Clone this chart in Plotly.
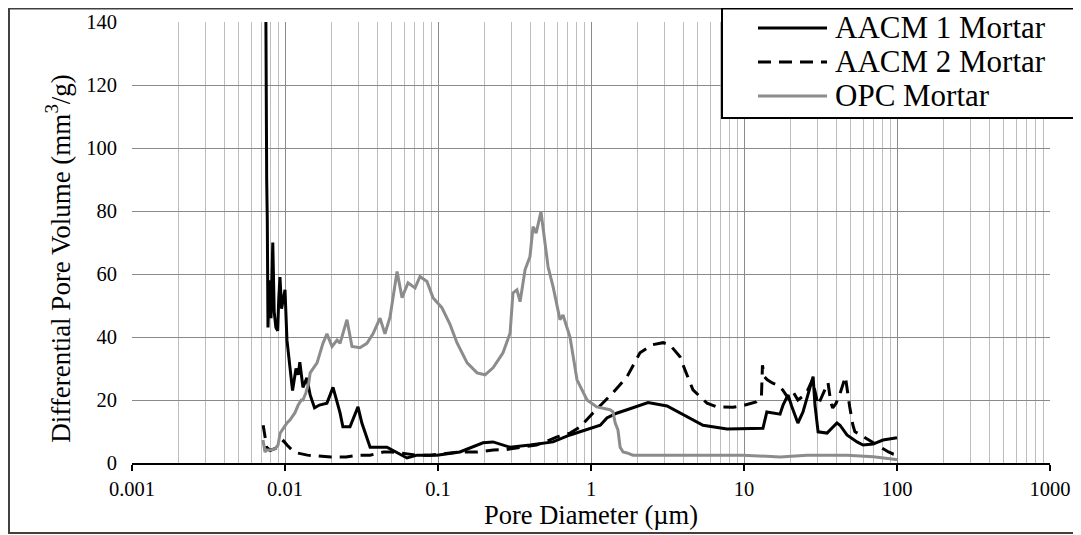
import plotly.graph_objects as go

# ---------------- data ----------------
aacm1_x = [0.00740, 0.00748, 0.00755, 0.00759, 0.00766, 0.00774, 0.0079, 0.0081, 0.00832, 0.0085,
           0.00872, 0.00896, 0.0091, 0.00927, 0.0095, 0.0098, 0.0100, 0.0103, 0.0107, 0.0112,
           0.0118, 0.0122, 0.0125, 0.0131, 0.0139, 0.0146, 0.0156, 0.0168, 0.0188, 0.0206,
           0.0229, 0.0239, 0.0266, 0.0300, 0.0318, 0.0360, 0.0464, 0.0540, 0.0627, 0.073,
           0.0984, 0.139, 0.197, 0.229, 0.296, 0.399, 0.565, 0.729, 1.0, 1.15,
           1.27, 1.47, 1.72, 2.36, 3.14, 4.24, 5.40, 7.74, 12.7, 13.3,
           14.1, 15.5, 17.2, 18.0, 19.4, 20.5, 22.5, 24.3, 26.2, 28.3,
           29.1, 30.5, 34.9, 40.5, 42.4, 47.1, 54.8, 60.0, 69.7, 81.0, 100.0]
aacm1_y = [200, 140, 100, 90, 77, 43, 58, 46, 70, 48,
           43, 42, 52, 59, 49, 52, 55, 39, 32, 23,
           30, 28, 32, 24, 27, 21.6, 17.5, 18.4, 19, 24,
           15.9, 11.5, 11.5, 17.8, 12.7, 5, 5, 3.2, 1.6, 2.5,
           2.5, 3.5, 6.4, 6.7, 5, 5.7, 6.7, 8.9, 11, 12,
           14.3, 15.8, 16.9, 19.2, 18.1, 14.7, 12, 10.8, 10.8, 11,
           16.2, 15.9, 15.5, 18.4, 21.6, 18, 12.7, 16.2, 21.6, 27.4,
           18.4, 9.9, 9.5, 12.7, 12, 8.9, 6.7, 5.7, 6, 7.3, 8]

aacm2_x = [0.0072, 0.0074, 0.0076, 0.0080, 0.0090, 0.0098, 0.0103, 0.0112, 0.0120, 0.014,
           0.016, 0.020, 0.025, 0.030, 0.036, 0.044, 0.050, 0.060, 0.073, 0.089,
           0.11, 0.139, 0.18, 0.23, 0.28, 0.36, 0.44, 0.52, 0.60, 0.73,
           0.85, 1.03, 1.2, 1.39, 1.72, 2.09, 2.5, 2.96, 3.28, 3.82,
           4.11, 4.64, 5.73, 6.67, 8.47, 9.85, 12.0, 13.0, 13.2, 13.6,
           14.2, 15.3, 16.5, 17.9, 19.5, 21.0, 22.5, 24.0, 26.0, 28.0,
           30.5, 33.0, 35.4, 37.0, 38.0, 40.0, 42.4, 46.0, 47.5, 49.0,
           51.5, 53.0, 88.0, 95.0, 101.0]
aacm2_y = [12, 8, 5, 4, 5, 7, 5.7, 4, 3.2, 2.5,
           2.2, 1.9, 1.9, 2.5, 2.5, 3.5, 3.5, 3.0, 2.5, 2.5,
           3, 3.5, 3.5, 4.1, 4.3, 5.2, 5.7, 7, 8.3, 9.5,
           11.5, 15.9, 19, 22.3, 27.4, 35, 37.5, 38.2, 37.5, 33.7,
           29.6, 23.2, 19, 17.8, 17.7, 18.2, 19.4, 21, 31, 27.4,
           26.4, 25.4, 24.8, 23.2, 20.5, 22.5, 20, 21, 23, 26.4,
           18.4, 22, 25.5, 19, 17.5, 19, 22, 27.4, 22, 18,
           12, 10, 3.5, 2.8, 2.6]

opc_x = [0.00718, 0.0074, 0.0076, 0.0080, 0.0086, 0.0090, 0.0093, 0.0097, 0.0103, 0.0108,
         0.0116, 0.0122, 0.0128, 0.0131, 0.0137, 0.0143, 0.0146, 0.0162, 0.0177, 0.0188,
         0.0203, 0.0219, 0.0229, 0.0254, 0.0274, 0.0309, 0.0343, 0.0376, 0.0418, 0.045,
         0.0486, 0.054, 0.0582, 0.0637, 0.0708, 0.0763, 0.0847, 0.0927, 0.106, 0.120,
         0.133, 0.155, 0.180, 0.203, 0.229, 0.266, 0.296, 0.309, 0.328, 0.344,
         0.371, 0.399, 0.418, 0.438, 0.471, 0.485, 0.524, 0.565, 0.627, 0.656,
         0.729, 0.810, 0.942, 1.09, 1.33, 1.39, 1.44, 1.50, 1.55, 1.62,
         1.72, 1.88, 5.0, 9.85, 17.2, 25.8, 47.1, 70.0, 101.6]
opc_y = [7.3, 3.5, 4.1, 4.1, 4.5, 5.7, 9.5, 11, 12.7, 13.7,
         15.9, 18.4, 20, 20, 22.3, 25.4, 28.6, 31.8, 38, 41,
         37, 39, 38, 45.5, 37, 36.6, 38, 41, 46, 41,
         46.4, 60.8, 52.5, 57.2, 55.6, 59.2, 57.6, 52.5, 49.3, 43.9,
         38.2, 31.8, 28.6, 28, 30.2, 35, 41.3, 54, 55, 51.2,
         61.4, 65.5, 75, 73, 79.8, 75, 62.3, 56, 45.5, 47,
         40, 26.4, 20, 17.8, 16.9, 16.3, 12.7, 10.5, 5, 3.5,
         3.2, 2.5, 2.5, 2.5, 1.9, 2.5, 2.5, 2.0, 1.0]

series_names = ["AACM 1 Mortar", "AACM 2 Mortar", "OPC Mortar"]
x_major = [0.001, 0.01, 0.1, 1, 10, 100, 1000]
x_major_text = ["0.001", "0.01", "0.1", "1", "10", "100", "1000"]
x_minor = [m * d for d in [0.001, 0.01, 0.1, 1, 10, 100] for m in range(2, 10)]
y_ticks = [0, 20, 40, 60, 80, 100, 120, 140]
x_title = "Pore Diameter (µm)"
y_title = "Differential Pore Volume (mm<sup>3</sup>/g)"

# ---------------- figure ----------------
FONT = "Liberation Serif, Times New Roman, serif"
BLACK = "#000000"
GRAY = "#8c8c8c"
DASH = "13px,8px"

fig = go.Figure()
fig.add_trace(go.Scatter(x=aacm1_x, y=aacm1_y, mode="lines", name=series_names[0],
                         line=dict(color=BLACK, width=3), showlegend=False))
fig.add_trace(go.Scatter(x=aacm2_x, y=aacm2_y, mode="lines", name=series_names[1],
                         line=dict(color=BLACK, width=3, dash=DASH), showlegend=False))
fig.add_trace(go.Scatter(x=opc_x, y=opc_y, mode="lines", name=series_names[2],
                         line=dict(color=GRAY, width=3), showlegend=False))

# page has an 8px body margin; figure is sized so it ends at the window edge
fig.update_layout(
    width=1073, height=527,
    margin=dict(l=124, r=31, t=14, b=72, autoexpand=False),
    paper_bgcolor="white", plot_bgcolor="white",
    font=dict(family=FONT, color="black", size=20),
)

fig.update_xaxes(
    type="log", range=[-3, 3], automargin=False,
    tickmode="array", tickvals=x_major, ticktext=x_major_text,
    showgrid=True, gridcolor="#8a8a8a", gridwidth=1,
    minor=dict(tickvals=x_minor, showgrid=True, gridcolor="#bdbdbd", gridwidth=1, ticks=""),
    showline=True, linecolor="black", linewidth=2,
    ticks="outside", ticklen=6, tickwidth=2, tickcolor="black",
    tickfont=dict(family=FONT, size=20.5),
    title=dict(text=x_title, font=dict(family=FONT, size=26.5), standoff=3),
    zeroline=False,
)
fig.update_yaxes(
    range=[0, 140], tickmode="array", tickvals=y_ticks, automargin=False,
    showgrid=True, gridcolor="#8a8a8a", gridwidth=1,
    showline=False, zeroline=False, ticks="",
    ticklabelstandoff=14,
    tickfont=dict(family=FONT, size=20.5),
)

# y-axis title placed as rotated text
fig.add_annotation(xref="paper", yref="paper", x=-0.0806, y=0.463, text=y_title, textangle=-90,
                   showarrow=False, xanchor="center", yanchor="middle",
                   font=dict(family=FONT, size=27, color="black"))

# outer chart frame
fig.add_shape(type="rect", xref="paper", yref="paper",
              x0=-0.1340, x1=1.045, y0=-0.159, y1=1.0305,
              line=dict(color="#404040", width=2), fillcolor="rgba(0,0,0,0)", layer="above")

# legend box drawn manually
fig.add_shape(type="rect", xref="paper", yref="paper",
              x0=0.6427, x1=1.045, y0=0.7823, y1=1.0305,
              line=dict(color="black", width=2), fillcolor="white", layer="above")
leg_rows = [0.9864, 0.9093, 0.8322]
leg_styles = [dict(color=BLACK, width=3), dict(color=BLACK, width=3, dash=DASH), dict(color=GRAY, width=3)]
for name, yy, st in zip(series_names, leg_rows, leg_styles):
    fig.add_shape(type="line", xref="paper", yref="paper", x0=0.6819, x1=0.7571, y0=yy, y1=yy,
                  line=st, layer="above")
    fig.add_annotation(xref="paper", yref="paper", x=0.7636, y=yy, text=name, showarrow=False,
                       xanchor="left", yanchor="middle", font=dict(family=FONT, size=31, color="black"))

fig.write_html("out.html")
